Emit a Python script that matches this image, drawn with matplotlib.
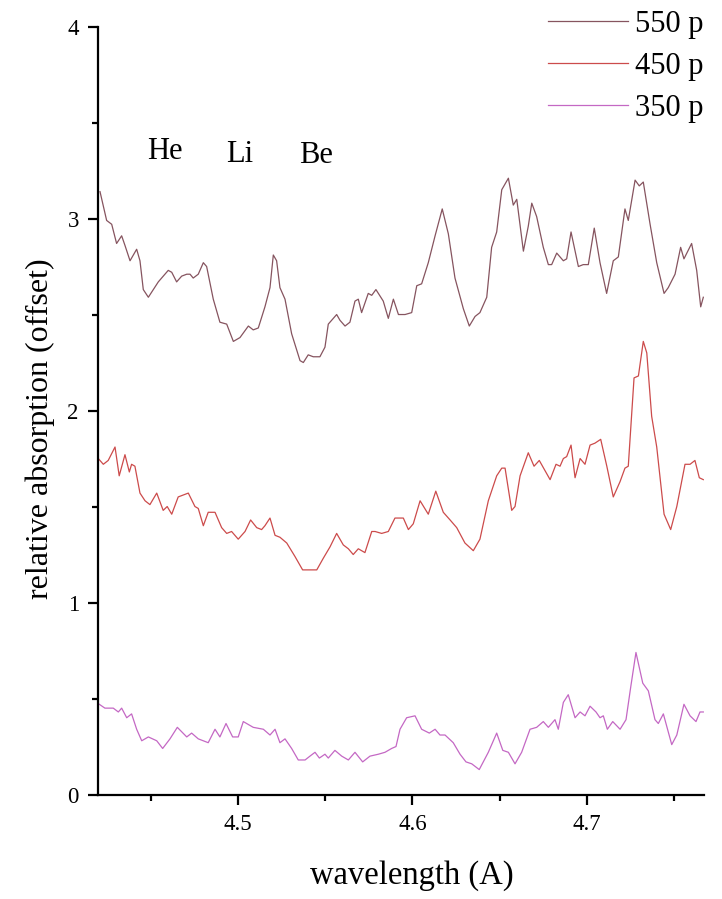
import matplotlib
matplotlib.use("Agg")
import matplotlib.pyplot as plt
from matplotlib.ticker import MultipleLocator

plt.rcParams['font.family'] = ['Liberation Serif', 'DejaVu Serif']

# ---- data ----
w550 = [4.421, 4.4248, 4.4277, 4.4305, 4.4334, 4.4353, 4.4382, 4.442, 4.4439, 4.4458,
        4.4487, 4.4544, 4.4601, 4.4621, 4.4649, 4.4678, 4.4707, 4.4726, 4.4744, 4.4773,
        4.4802, 4.4821, 4.4859, 4.4897, 4.4936, 4.4974, 4.5012, 4.506, 4.5088, 4.5117,
        4.5155, 4.5184, 4.5203, 4.5222, 4.5241, 4.527, 4.5308, 4.5356, 4.5375, 4.5403,
        4.5432, 4.547, 4.5499, 4.5518, 4.5566, 4.5585, 4.5614, 4.5642, 4.5671, 4.569,
        4.5709, 4.5747, 4.5767, 4.5791, 4.5833, 4.5862, 4.5891, 4.592, 4.5958, 4.5996,
        4.6025, 4.6053, 4.6091, 4.613, 4.6171, 4.6206, 4.6244, 4.6292, 4.6326, 4.6359,
        4.6387, 4.6426, 4.6454, 4.6483, 4.6512, 4.655, 4.6578, 4.6598, 4.6636, 4.6664,
        4.6684, 4.6712, 4.675, 4.6779, 4.6798, 4.6827, 4.6865, 4.6884, 4.6909, 4.6951,
        4.6979, 4.7008, 4.7042, 4.7075, 4.7113, 4.7151, 4.718, 4.7218, 4.7237, 4.7276,
        4.73, 4.7323, 4.7362, 4.74, 4.7442, 4.7466, 4.7505, 4.7537, 4.7556, 4.76,
        4.7629, 4.7652, 4.7667]
a550 = [3.14, 2.99, 2.97, 2.87, 2.91, 2.86, 2.78, 2.84, 2.78, 2.63,
        2.59, 2.67, 2.73, 2.72, 2.67, 2.70, 2.71, 2.71, 2.69, 2.71,
        2.77, 2.75, 2.58, 2.46, 2.45, 2.36, 2.38, 2.44, 2.42, 2.43,
        2.54, 2.64, 2.81, 2.78, 2.64, 2.58, 2.40, 2.26, 2.25, 2.29,
        2.28, 2.28, 2.33, 2.45, 2.50, 2.47, 2.44, 2.46, 2.57, 2.58,
        2.51, 2.61, 2.60, 2.63, 2.57, 2.48, 2.58, 2.50, 2.50, 2.51,
        2.65, 2.66, 2.77, 2.91, 3.05, 2.92, 2.69, 2.53, 2.44, 2.49,
        2.51, 2.59, 2.85, 2.93, 3.15, 3.21, 3.07, 3.10, 2.83, 2.96,
        3.08, 3.01, 2.85, 2.76, 2.76, 2.82, 2.78, 2.79, 2.93, 2.75,
        2.76, 2.76, 2.95, 2.77, 2.61, 2.78, 2.80, 3.05, 2.99, 3.20,
        3.17, 3.19, 2.97, 2.77, 2.61, 2.64, 2.71, 2.85, 2.79, 2.87,
        2.73, 2.54, 2.59]

w450 = [4.420, 4.4229, 4.4257, 4.4296, 4.432, 4.4353, 4.4378, 4.4391, 4.441, 4.4439,
        4.4468, 4.4496, 4.4535, 4.4572, 4.4595, 4.4621, 4.4658, 4.4687, 4.4716, 4.4754,
        4.4773, 4.4802, 4.483, 4.4869, 4.4907, 4.4936, 4.4964, 4.5002, 4.5041, 4.5073,
        4.5108, 4.5136, 4.5155, 4.5184, 4.5213, 4.5241, 4.528, 4.5327, 4.5371, 4.5413,
        4.5452, 4.5489, 4.5528, 4.5566, 4.5604, 4.5633, 4.5661, 4.569, 4.5728, 4.5767,
        4.5786, 4.5824, 4.5862, 4.59, 4.5948, 4.5977, 4.6005, 4.6044, 4.6091, 4.6134,
        4.6177, 4.6216, 4.6254, 4.6301, 4.6349, 4.6387, 4.6435, 4.6483, 4.6512, 4.6531,
        4.6569, 4.6588, 4.6617, 4.6664, 4.6697, 4.6727, 4.6789, 4.6823, 4.6846, 4.6865,
        4.6884, 4.6909, 4.6932, 4.6961, 4.6989, 4.7018, 4.7046, 4.7079, 4.7114, 4.7151,
        4.719, 4.7218, 4.7237, 4.727, 4.7295, 4.7323, 4.7343, 4.7371, 4.74, 4.7442,
        4.748, 4.7515, 4.7562, 4.7591, 4.7619, 4.7644, 4.7667]
a450 = [1.75, 1.72, 1.74, 1.81, 1.66, 1.77, 1.68, 1.72, 1.71, 1.57,
        1.53, 1.51, 1.57, 1.48, 1.50, 1.46, 1.55, 1.56, 1.57, 1.50,
        1.49, 1.40, 1.47, 1.47, 1.39, 1.36, 1.37, 1.33, 1.37, 1.43,
        1.39, 1.38, 1.40, 1.44, 1.35, 1.34, 1.31, 1.24, 1.17, 1.17,
        1.17, 1.23, 1.29, 1.36, 1.30, 1.28, 1.25, 1.28, 1.26, 1.37,
        1.37, 1.36, 1.37, 1.44, 1.44, 1.38, 1.41, 1.53, 1.46, 1.58,
        1.47, 1.43, 1.39, 1.31, 1.27, 1.33, 1.53, 1.66, 1.70, 1.70,
        1.48, 1.50, 1.66, 1.78, 1.71, 1.74, 1.64, 1.72, 1.71, 1.75,
        1.76, 1.82, 1.65, 1.75, 1.72, 1.82, 1.83, 1.85, 1.71, 1.55,
        1.63, 1.70, 1.71, 2.17, 2.18, 2.36, 2.30, 1.97, 1.81, 1.46,
        1.38, 1.50, 1.72, 1.72, 1.74, 1.65, 1.64]

w350 = [4.4206, 4.4238, 4.4286, 4.4315, 4.4334, 4.4363, 4.4391, 4.442, 4.4449, 4.4487,
        4.4535, 4.4569, 4.4611, 4.4653, 4.4707, 4.4735, 4.4773, 4.483, 4.4869, 4.4897,
        4.4932, 4.497, 4.5002, 4.5031, 4.5088, 4.5146, 4.5184, 4.5213, 4.5241, 4.527,
        4.5308, 4.5346, 4.5385, 4.5413, 4.5442, 4.5467, 4.5499, 4.5518, 4.5556, 4.5595,
        4.5633, 4.5671, 4.5715, 4.5757, 4.5805, 4.5843, 4.5881, 4.5906, 4.5929, 4.5967,
        4.6015, 4.6053, 4.6097, 4.613, 4.6158, 4.6187, 4.6234, 4.6273, 4.6307, 4.634,
        4.6383, 4.6435, 4.6483, 4.6518, 4.655, 4.6588, 4.6626, 4.6674, 4.6712, 4.675,
        4.6779, 4.6817, 4.6836, 4.6865, 4.6893, 4.6932, 4.6961, 4.6989, 4.7018, 4.7052,
        4.7075, 4.7094, 4.7117, 4.7148, 4.719, 4.7224, 4.7251, 4.7281, 4.732, 4.7352,
        4.739, 4.7409, 4.7438, 4.7486, 4.7515, 4.7556, 4.7591, 4.7625, 4.7648, 4.7667]
a350 = [0.47, 0.45, 0.45, 0.43, 0.45, 0.40, 0.42, 0.34, 0.28, 0.30,
        0.28, 0.24, 0.29, 0.35, 0.30, 0.32, 0.29, 0.27, 0.34, 0.30,
        0.37, 0.30, 0.30, 0.38, 0.35, 0.34, 0.31, 0.34, 0.27, 0.29,
        0.24, 0.18, 0.18, 0.20, 0.22, 0.19, 0.21, 0.19, 0.23, 0.20,
        0.18, 0.22, 0.17, 0.20, 0.21, 0.22, 0.24, 0.25, 0.34, 0.40,
        0.41, 0.34, 0.32, 0.34, 0.31, 0.31, 0.27, 0.21, 0.17, 0.16,
        0.13, 0.22, 0.32, 0.23, 0.22, 0.16, 0.22, 0.34, 0.35, 0.38,
        0.35, 0.39, 0.34, 0.48, 0.52, 0.40, 0.43, 0.41, 0.46, 0.43,
        0.40, 0.41, 0.34, 0.38, 0.34, 0.39, 0.56, 0.74, 0.58, 0.54,
        0.39, 0.37, 0.42, 0.26, 0.31, 0.47, 0.41, 0.38, 0.43, 0.43]

series_labels = ["550 p", "450 p", "350 p"]
series_colors = ["#86545f", "#cc4b4b", "#c468c4"]

element_labels = ["He", "Li", "Be"]
element_x = [4.4579, 4.5012, 4.5445]
element_y = [3.308, 3.293, 3.287]

xticks = [4.5, 4.6, 4.7]
yticks = [0, 1, 2, 3, 4]

# ---- figure ----
fig = plt.figure(figsize=(7.22, 8.99), dpi=100)
ax = fig.add_axes([0.1361, 0.1162, 0.839, 0.8543])

lines = []
for w, a, lab, c in zip([w550, w450, w350], [a550, a450, a350], series_labels, series_colors):
    ln, = ax.plot(w, a, color=c, lw=0.9, label=lab)
    lines.append(ln)

ax.set_xlim(4.42, 4.7671)
ax.set_ylim(0, 4)
ax.set_xticks(xticks)
ax.set_xticklabels([f"{t:.1f}" for t in xticks])
ax.set_yticks(yticks)
ax.set_yticklabels([str(t) for t in yticks])
ax.xaxis.set_minor_locator(MultipleLocator(0.05))
ax.yaxis.set_minor_locator(MultipleLocator(0.5))

for s in ['top', 'right']:
    ax.spines[s].set_visible(False)
for s in ['left', 'bottom']:
    ax.spines[s].set_linewidth(1.6)

ax.tick_params(which='major', direction='out', length=7, width=1.6, labelsize=16.5, pad=7)
ax.tick_params(which='minor', direction='out', length=4.5, width=1.6)

ax.set_xlabel("wavelength (A)", fontsize=23.5)
ax.xaxis.set_label_coords(0.518, -0.086)
ax.set_ylabel("relative absorption (offset)", fontsize=23)
ax.yaxis.label.set_va('center')
ax.yaxis.set_label_coords(-0.095, 0.477)

for lab, x, y in zip(element_labels, element_x, element_y):
    ax.text(x, y, lab, fontsize=22, ha='center', va='baseline')

leg = ax.legend(handles=lines, loc='upper left', bbox_to_anchor=(548 / 722, 1 - 10 / 899),
                bbox_transform=fig.transFigure, frameon=False, fontsize=22,
                handlelength=2.61, handletextpad=0.23, labelspacing=0.42,
                borderpad=0, borderaxespad=0)
for h in leg.get_lines():
    h.set_linewidth(0.9)

fig.savefig("out.png", dpi=100)
